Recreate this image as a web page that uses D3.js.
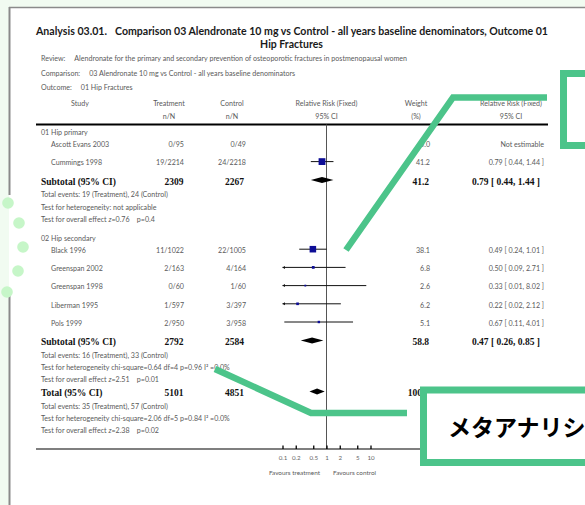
<!DOCTYPE html>
<html>
<head>
<meta charset="utf-8">
<script src="https://cdn.jsdelivr.net/npm/d3@7"></script>
<style>
  body { margin: 0; background: #f1fbf1; }
  svg { display: block; }
  .sm { font-family: Lato, "Open Sans", sans-serif; font-size: 7.1px; fill: #5a5a5a; white-space: pre; }
  .bd { font-family: "Liberation Serif", serif; font-weight: bold; font-size: 9.5px; fill: #111; }
  .ttl { font-family: Lato, "Open Sans", sans-serif; font-weight: bold; font-size: 10.5px; fill: #1a1a1a; }
</style>
</head>
<body>
<svg id="chart" width="585" height="505"></svg>
<script>
// ---- data ----
const groupNames = ["01 Hip primary", "02 Hip secondary"];
const studyGroup = [0, 0, 1, 1, 1, 1, 1];
const studyNames = ["Ascott Evans 2003", "Cummings 1998", "Black 1996", "Greenspan 2002", "Greenspan 1998", "Liberman 1995", "Pols 1999"];
const treatmentNN = ["0/95", "19/2214", "11/1022", "2/163", "0/60", "1/597", "2/950"];
const controlNN = ["0/49", "24/2218", "22/1005", "4/164", "1/60", "3/397", "3/958"];
const weights = [0.0, 41.2, 38.1, 6.8, 2.6, 6.2, 5.1];
const rr = [null, 0.79, 0.49, 0.50, 0.33, 0.22, 0.67];
const rrLow = [null, 0.44, 0.24, 0.09, 0.01, 0.02, 0.11];
const rrHigh = [null, 1.44, 1.01, 2.71, 8.02, 2.12, 4.01];

const subTreat = [2309, 2792];
const subControl = [2267, 2584];
const subWeight = [41.2, 58.8];
const subRR = [0.79, 0.47];
const subLow = [0.44, 0.26];
const subHigh = [1.44, 0.85];
const groupNotes = [
  ["Total events: 19 (Treatment), 24 (Control)", "Test for heterogeneity: not applicable", "Test for overall effect z=0.76    p=0.4"],
  ["Total events: 16 (Treatment), 33 (Control)", "Test for heterogeneity chi-square=0.64 df=4 p=0.96 I\u00b2 =0.0%", "Test for overall effect z=2.51    p=0.01"]
];

const totalTreat = 5101, totalControl = 4851, totalWeight = 100.0;
const totalRR = 0.61, totalLow = 0.41, totalHigh = 0.91;
const totalNotes = ["Total events: 35 (Treatment), 57 (Control)", "Test for heterogeneity chi-square=2.06 df=5 p=0.84 I\u00b2 =0.0%", "Test for overall effect z=2.38    p=0.02"];

const axisTicks = [0.1, 0.2, 0.5, 1, 2, 5, 10];
const tickLabels = ["0.1", "0.2", "0.5", "1", "2", "5", "10"];

const svg = d3.select('#chart');

// page
svg.append('rect').attr('x', 9).attr('y', 7).attr('width', 580).attr('height', 500).attr('fill', '#fff');
svg.append('line').attr('x1', 9).attr('x2', 585).attr('y1', 7.5).attr('y2', 7.5).attr('stroke', '#8a8a8a').attr('stroke-width', 1.5);
svg.append('line').attr('x1', 9.5).attr('x2', 9.5).attr('y1', 7).attr('y2', 195).attr('stroke', '#8a8a8a').attr('stroke-width', 2);
svg.append('line').attr('x1', 9.5).attr('x2', 9.5).attr('y1', 296).attr('y2', 505).attr('stroke', '#8a8a8a').attr('stroke-width', 2);
[[8, 203], [19, 223], [23, 247], [18, 271], [7, 292]].forEach(p => {
  svg.append('circle').attr('cx', p[0]).attr('cy', p[1]).attr('r', 5.8).attr('fill', '#c6f6c8');
});

// title block
svg.append('text').attr('class', 'ttl').attr('x', 36).attr('y', 35)
  .attr('textLength', 71).attr('lengthAdjust', 'spacingAndGlyphs').text('Analysis 03.01.');
svg.append('text').attr('class', 'ttl').attr('x', 115).attr('y', 35)
  .attr('textLength', 433).attr('lengthAdjust', 'spacingAndGlyphs')
  .text('Comparison 03 Alendronate 10 mg vs Control - all years baseline denominators, Outcome 01');
svg.append('text').attr('class', 'ttl').attr('x', 291.5).attr('y', 47.5).attr('text-anchor', 'middle').text('Hip Fractures');

const meta = [
  ['Review:', 'Alendronate for the primary and secondary prevention of osteoporotic fractures in postmenopausal women', 61],
  ['Comparison:', '03 Alendronate 10 mg vs Control - all years baseline denominators', 75.5],
  ['Outcome:', '01 Hip Fractures', 90]
];
meta.forEach(m => {
  const t = svg.append('text').attr('class', 'sm').attr('x', 41).attr('y', m[2]);
  t.append('tspan').text(m[0]);
  t.append('tspan').attr('dx', 9).text(m[1]);
});

// column headers
const heads = [
  ['Treatment', 169, 'n/N'],
  ['Control', 232, 'n/N'],
  ['Relative Risk (Fixed)', 326.5, '95% CI'],
  ['Weight', 416, '(%)'],
  ['Relative Risk (Fixed)', 511, '95% CI']
];
svg.append('text').attr('class', 'sm').attr('x', 80).attr('y', 106).attr('text-anchor', 'middle').text('Study');
heads.forEach(h => {
  svg.append('text').attr('class', 'sm').attr('x', h[1]).attr('y', 106).attr('text-anchor', 'middle').text(h[0]);
  svg.append('text').attr('class', 'sm').attr('x', h[1]).attr('y', 118.5).attr('text-anchor', 'middle').text(h[2]);
});

svg.append('line').attr('x1', 36).attr('x2', 548).attr('y1', 124.5).attr('y2', 124.5).attr('stroke', '#000').attr('stroke-width', 2);

// rows
const rows = [];
groupNames.forEach((g, gi) => {
  rows.push({ type: 'group', label: g });
  studyNames.forEach((s, i) => { if (studyGroup[i] === gi) rows.push({ type: 'study', i }); });
  rows.push({ type: 'sub', gi });
  groupNotes[gi].forEach(n => rows.push({ type: 'note', label: n }));
});
rows.push({ type: 'total' });
totalNotes.forEach(n => rows.push({ type: 'note', label: n }));

const gap = (a, b) => {
  if (b === 'group') return 19;
  if (a === 'group') return 12;
  if (a === 'study' && b === 'study') return 18.2;
  if (b === 'sub') return 18.5;
  if (b === 'total') return 13;
  if (a === 'sub' || a === 'total') return 13.5;
  return 12.3;
};
let yy = 132.7;
rows.forEach((r, k) => {
  if (k > 0) yy += gap(rows[k - 1].type, r.type);
  r.y = yy;
});

const x = d3.scaleLog().domain([0.1, 10]).range([282.5, 370.5]).clamp(true);
const size = d3.scaleSqrt().domain([0, 41.2]).range([0, 6.8]);
const f2 = d3.format('.2f');
const f1 = d3.format('.1f');
const ci = (a, b, c) => `${f2(a)} [ ${f2(b)}, ${f2(c)} ]`;

// reference line at RR = 1
svg.append('line').attr('x1', x(1)).attr('x2', x(1)).attr('y1', 124.5).attr('y2', 449).attr('stroke', '#555').attr('stroke-width', 1);

function smallText(txt, xx, y, anchor) {
  return svg.append('text').attr('class', 'sm').attr('x', xx).attr('y', y + 2.4).attr('text-anchor', anchor || 'start').text(txt);
}
function boldText(txt, xx, y, anchor) {
  return svg.append('text').attr('class', 'bd').attr('x', xx).attr('y', y + 3.3).attr('text-anchor', anchor || 'start').text(txt);
}
function diamond(c, lo, hi, y) {
  const pts = [[x(lo), y], [x(c), y - 3], [x(hi), y], [x(c), y + 3]];
  svg.append('path').attr('d', d3.line()(pts) + 'Z').attr('fill', '#000');
}

rows.forEach(r => {
  const my = r.y - 1.3;
  if (r.type === 'group') smallText(r.label, 41, r.y);
  if (r.type === 'note') {
    const t = smallText('', 41, r.y);
    const m = r.label.match(/^(.*effect )z(=.*)$/);
    if (m) {
      t.append('tspan').text(m[1]);
      t.append('tspan').attr('font-style', 'italic').text('z');
      t.append('tspan').text(m[2]);
    } else t.text(r.label);
  }
  if (r.type === 'study') {
    const i = r.i;
    smallText(studyNames[i], 51, r.y);
    smallText(treatmentNN[i], 184, r.y, 'end');
    smallText(controlNN[i], 246, r.y, 'end');
    smallText(f1(weights[i]), 430, r.y, 'end');
    smallText(rr[i] === null ? 'Not estimable' : ci(rr[i], rrLow[i], rrHigh[i]), 544, r.y, 'end');
    if (rr[i] !== null) {
      svg.append('line').attr('x1', x(rrLow[i])).attr('x2', x(rrHigh[i])).attr('y1', my).attr('y2', my)
        .attr('stroke', '#111').attr('stroke-width', 1);
      if (rrLow[i] < 0.1) {
        const ax = x(rrLow[i]);
        svg.append('path').attr('d', `M${ax},${my}L${ax + 2.5},${my - 1.5}L${ax + 2.5},${my + 1.5}Z`).attr('fill', '#111');
      }
      const s = Math.max(1.8, size(weights[i]));
      svg.append('rect').attr('x', x(rr[i]) - s / 2).attr('y', my - s / 2).attr('width', s).attr('height', s).attr('fill', '#0d0d96');
    }
  }
  if (r.type === 'sub') {
    const g = r.gi;
    boldText('Subtotal (95% CI)', 41, r.y);
    boldText(subTreat[g], 183.5, r.y, 'end');
    boldText(subControl[g], 244, r.y, 'end');
    boldText(f1(subWeight[g]), 429, r.y, 'end');
    boldText(ci(subRR[g], subLow[g], subHigh[g]), 540, r.y, 'end');
    diamond(subRR[g], subLow[g], subHigh[g], my);
  }
  if (r.type === 'total') {
    boldText('Total (95% CI)', 41, r.y);
    boldText(totalTreat, 183.5, r.y, 'end');
    boldText(totalControl, 244, r.y, 'end');
    boldText(f1(totalWeight), 429, r.y, 'end');
    boldText(ci(totalRR, totalLow, totalHigh), 540, r.y, 'end');
    diamond(totalRR, totalLow, totalHigh, my);
  }
});

// bottom axis
svg.append('line').attr('x1', 36).attr('x2', 548).attr('y1', 449).attr('y2', 449).attr('stroke', '#000').attr('stroke-width', 1.2);
const axis = d3.axisBottom(x).tickValues(axisTicks).tickFormat((d, i) => tickLabels[i]).tickSize(-3.5).tickPadding(6.5);
const ag = svg.append('g').attr('transform', 'translate(0,449)').call(axis);
ag.select('.domain').remove();
ag.selectAll('.tick line').attr('stroke', '#000').attr('stroke-width', 1.3);
ag.selectAll('.tick text').attr('font-family', 'Lato, sans-serif').attr('font-size', 6.2).attr('fill', '#666');
svg.append('text').attr('class', 'sm').attr('x', 320).attr('y', 474.5).attr('text-anchor', 'end').style('font-size', '6.4px').text('Favours treatment');
svg.append('text').attr('class', 'sm').attr('x', 333).attr('y', 474.5).style('font-size', '6.4px').text('Favours control');

// callouts
const green = '#4cc48a';
svg.append('polyline').attr('points', '547,97.5 453,97.5 346,250').attr('fill', 'none')
  .attr('stroke', green).attr('stroke-width', 6.5).attr('stroke-linejoin', 'miter');
svg.append('rect').attr('x', 563.5).attr('y', 73.5).attr('width', 60).attr('height', 72).attr('fill', '#fff')
  .attr('stroke', green).attr('stroke-width', 7);
svg.append('polyline').attr('points', '215,369 311,413 407,413').attr('fill', 'none')
  .attr('stroke', green).attr('stroke-width', 6.5).attr('stroke-linejoin', 'miter');
svg.append('rect').attr('x', 423.5).attr('y', 390).attr('width', 200).attr('height', 72.5).attr('fill', '#fff')
  .attr('stroke', green).attr('stroke-width', 7);
svg.append('text').attr('x', 448).attr('y', 436).attr('font-family', '"Noto Sans CJK JP", sans-serif')
  .attr('font-weight', 'bold').attr('font-size', 23).attr('fill', '#000').text('メタアナリシス');
</script>
</body>
</html>
